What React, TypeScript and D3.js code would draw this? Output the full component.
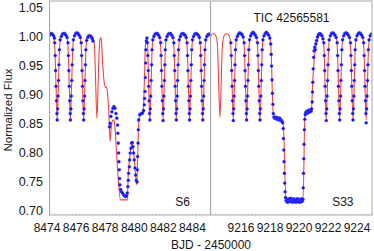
import * as d3 from 'd3';

// TIC 42565581 light curve, sectors S6 and S33 (broken time axis)

type Pt = [number, number];

const fluxTicks = [0.7, 0.75, 0.8, 0.85, 0.9, 0.95, 1.0, 1.05];
const s6Ticks = [8474, 8476, 8478, 8480, 8482, 8484];
const s33Ticks = [9216, 9218, 9220, 9222, 9224];
const s6Range: Pt = [8474.17, 8485.24];
const s33Range: Pt = [9213.9, 9225.03];
const fluxRange: Pt = [0.693, 1.062];

// model curve (red)
const s6Model: Pt[] = [
  [8474.14, 1.004], [8474.245, 1.006], [8474.4, 1.003], [8474.5, 0.993], [8474.55, 0.975], [8474.62, 0.915], [8474.7, 0.857],
  [8474.78, 0.915], [8474.85, 0.975], [8474.9, 0.993], [8475.0, 1.003], [8475.155, 1.006],
  [8475.31, 1.003], [8475.41, 0.993], [8475.46, 0.975], [8475.53, 0.915], [8475.61, 0.857],
  [8475.69, 0.915], [8475.76, 0.975], [8475.81, 0.993], [8475.91, 1.003], [8476.065, 1.006],
  [8476.22, 1.003], [8476.32, 0.993], [8476.37, 0.975], [8476.44, 0.915], [8476.52, 0.857],
  [8476.6, 0.915], [8476.67, 0.975], [8476.72, 0.993], [8476.82, 1.002], [8476.975, 1.003],
  [8477.13, 1.0], [8477.23, 0.992], [8477.28, 0.975], [8477.35, 0.915], [8477.43, 0.86],
  [8477.51, 0.915], [8477.58, 0.975], [8477.63, 0.995], [8477.68, 0.999],
  [8477.74, 0.994], [8477.8, 0.965], [8477.88, 0.935], [8477.95, 0.918], [8478.03, 0.913], [8478.1, 0.914],
  [8478.17, 0.9], [8478.24, 0.875], [8478.34, 0.82], [8478.42, 0.845], [8478.52, 0.856], [8478.6, 0.857],
  [8478.68, 0.842], [8478.78, 0.8], [8478.9, 0.755], [8479.05, 0.719], [8479.52, 0.719], [8479.58, 0.76],
  [8479.68, 0.79], [8479.8, 0.813], [8479.88, 0.815], [8479.98, 0.795], [8480.08, 0.765], [8480.17, 0.745],
  [8480.24, 0.8], [8480.31, 0.855], [8480.4, 0.864], [8480.55, 0.868], [8480.63, 0.88], [8480.7, 0.93],
  [8480.76, 0.985], [8480.82, 0.996], [8480.87, 0.995], [8480.92, 0.983],
  [8480.99, 0.915], [8481.07, 0.857], [8481.15, 0.915], [8481.22, 0.975], [8481.27, 0.993], [8481.37, 1.003], [8481.525, 1.006],
  [8481.68, 1.003], [8481.78, 0.993], [8481.83, 0.975], [8481.9, 0.915], [8481.98, 0.857],
  [8482.06, 0.915], [8482.13, 0.975], [8482.18, 0.993], [8482.28, 1.003], [8482.435, 1.006],
  [8482.59, 1.003], [8482.69, 0.993], [8482.74, 0.975], [8482.81, 0.915], [8482.89, 0.857],
  [8482.97, 0.915], [8483.04, 0.975], [8483.09, 0.993], [8483.19, 1.003], [8483.345, 1.006],
  [8483.5, 1.003], [8483.6, 0.993], [8483.65, 0.975], [8483.72, 0.915], [8483.8, 0.857],
  [8483.88, 0.915], [8483.95, 0.975], [8484.0, 0.993], [8484.1, 1.003], [8484.255, 1.006],
  [8484.41, 1.003], [8484.51, 0.993], [8484.56, 0.975], [8484.63, 0.915], [8484.71, 0.857],
  [8484.79, 0.915], [8484.86, 0.975], [8484.91, 0.993], [8485.01, 1.003], [8485.165, 1.006], [8485.26, 1.005],
];

const s33Model: Pt[] = [
  [9213.86, 0.997], [9213.94, 1.002], [9214.095, 1.006], [9214.25, 1.003], [9214.35, 0.993], [9214.4, 0.975],
  [9214.47, 0.915], [9214.55, 0.861], [9214.63, 0.915], [9214.7, 0.975], [9214.75, 0.993], [9214.85, 1.003], [9215.01, 1.006],
  [9215.17, 1.003], [9215.27, 0.993], [9215.32, 0.975], [9215.39, 0.915], [9215.47, 0.857],
  [9215.55, 0.915], [9215.62, 0.975], [9215.67, 0.993], [9215.77, 1.003], [9215.93, 1.006],
  [9216.09, 1.003], [9216.19, 0.993], [9216.24, 0.975], [9216.31, 0.915], [9216.39, 0.857],
  [9216.47, 0.915], [9216.54, 0.975], [9216.59, 0.993], [9216.69, 1.003], [9216.85, 1.006],
  [9217.01, 1.003], [9217.11, 0.993], [9217.16, 0.975], [9217.23, 0.915], [9217.31, 0.857],
  [9217.39, 0.915], [9217.46, 0.975], [9217.51, 0.993], [9217.61, 1.003], [9217.77, 1.006],
  [9217.93, 1.003], [9218.03, 0.993], [9218.08, 0.975], [9218.15, 0.915], [9218.23, 0.862], [9218.35, 0.862],
  [9218.55, 0.86], [9218.8, 0.856], [9218.92, 0.848], [9219.1, 0.72], [9220.28, 0.72], [9220.41, 0.866],
  [9220.6, 0.87], [9220.85, 0.873], [9220.95, 0.925], [9221.1, 0.975], [9221.25, 0.992], [9221.42, 1.004],
  [9221.58, 1.003], [9221.68, 0.993], [9221.73, 0.975], [9221.8, 0.915], [9221.88, 0.857],
  [9221.96, 0.915], [9222.03, 0.975], [9222.08, 0.993], [9222.18, 1.003], [9222.34, 1.006],
  [9222.5, 1.003], [9222.6, 0.993], [9222.65, 0.975], [9222.72, 0.915], [9222.8, 0.857],
  [9222.88, 0.915], [9222.95, 0.975], [9223.0, 0.993], [9223.1, 1.003], [9223.26, 1.006],
  [9223.42, 1.003], [9223.52, 0.993], [9223.57, 0.975], [9223.64, 0.915], [9223.72, 0.857],
  [9223.8, 0.915], [9223.87, 0.975], [9223.92, 0.993], [9224.02, 1.003], [9224.18, 1.006],
  [9224.33, 1.003], [9224.43, 0.993], [9224.48, 0.975], [9224.55, 0.915], [9224.63, 0.857],
  [9224.71, 0.915], [9224.78, 0.975], [9224.83, 0.993], [9224.93, 1.003], [9225.05, 1.005],
];

// observed fluxes (blue)
const s6Data: Pt[] = [
  [8474.21, 1.004], [8474.29, 1.006], [8474.37, 1.005], [8474.45, 1.002], [8474.51, 0.998],
  [8474.53, 0.99], [8474.56, 0.968], [8474.59, 0.942], [8474.62, 0.915], [8474.65, 0.89], [8474.68, 0.868], [8474.7, 0.857],
  [8474.73, 0.876], [8474.76, 0.898], [8474.79, 0.925], [8474.82, 0.952], [8474.85, 0.978], [8474.9, 0.995],
  [8474.98, 1.001], [8475.06, 1.005], [8475.14, 1.006], [8475.22, 1.006], [8475.3, 1.003], [8475.38, 0.999],
  [8475.44, 0.99], [8475.47, 0.968], [8475.5, 0.942], [8475.53, 0.915], [8475.56, 0.89], [8475.59, 0.868], [8475.61, 0.857],
  [8475.64, 0.876], [8475.67, 0.898], [8475.7, 0.925], [8475.73, 0.952], [8475.76, 0.978], [8475.81, 0.995],
  [8475.89, 1.002], [8475.97, 1.006], [8476.05, 1.007], [8476.13, 1.006], [8476.21, 1.003], [8476.29, 0.999],
  [8476.35, 0.99], [8476.38, 0.968], [8476.41, 0.942], [8476.44, 0.915], [8476.47, 0.89], [8476.5, 0.868], [8476.52, 0.857],
  [8476.55, 0.876], [8476.58, 0.898], [8476.61, 0.925], [8476.64, 0.952], [8476.67, 0.978], [8476.72, 0.994],
  [8476.8, 0.999], [8476.88, 1.002], [8476.96, 1.002], [8477.04, 1.0], [8477.11, 0.997], [8477.16, 0.993],
  [8478.3, 0.845], [8478.34, 0.851], [8478.39, 0.863], [8478.46, 0.871], [8478.53, 0.877], [8478.6, 0.88],
  [8478.67, 0.877], [8478.74, 0.868], [8478.8, 0.86], [8478.85, 0.848], [8478.87, 0.834], [8478.9, 0.817],
  [8478.92, 0.8], [8478.94, 0.785], [8478.97, 0.771], [8478.99, 0.756], [8479.01, 0.745], [8479.06, 0.737],
  [8479.12, 0.733], [8479.19, 0.731], [8479.26, 0.728], [8479.33, 0.726], [8479.4, 0.725], [8479.47, 0.726],
  [8479.52, 0.731], [8479.56, 0.742], [8479.59, 0.753], [8479.61, 0.765], [8479.66, 0.776], [8479.68, 0.788],
  [8479.72, 0.8], [8479.77, 0.808], [8479.81, 0.817], [8479.86, 0.818], [8479.91, 0.811], [8479.95, 0.8],
  [8480.0, 0.788], [8480.05, 0.774], [8480.09, 0.762], [8480.14, 0.753], [8480.19, 0.75], [8480.21, 0.771],
  [8480.23, 0.794], [8480.26, 0.817], [8480.28, 0.84], [8480.3, 0.857], [8480.37, 0.866], [8480.43, 0.867],
  [8480.5, 0.868], [8480.57, 0.869], [8480.64, 0.873], [8480.69, 0.883], [8480.71, 0.894], [8480.74, 0.906],
  [8480.76, 0.93], [8480.78, 0.955], [8480.8, 0.978], [8480.83, 0.993], [8480.87, 0.998],
  [8480.9, 0.99], [8480.93, 0.968], [8480.96, 0.942], [8480.99, 0.915], [8481.02, 0.89], [8481.05, 0.868], [8481.07, 0.857],
  [8481.1, 0.876], [8481.13, 0.898], [8481.16, 0.925], [8481.19, 0.952], [8481.22, 0.978], [8481.27, 0.995],
  [8481.35, 1.001], [8481.43, 1.005], [8481.51, 1.006], [8481.59, 1.006], [8481.67, 1.003], [8481.75, 0.999],
  [8481.81, 0.99], [8481.84, 0.968], [8481.87, 0.942], [8481.9, 0.915], [8481.93, 0.89], [8481.96, 0.868], [8481.98, 0.856],
  [8482.01, 0.876], [8482.04, 0.898], [8482.07, 0.925], [8482.1, 0.952], [8482.13, 0.978], [8482.18, 0.995],
  [8482.26, 1.001], [8482.34, 1.005], [8482.42, 1.006], [8482.5, 1.006], [8482.58, 1.003], [8482.66, 0.999],
  [8482.72, 0.99], [8482.75, 0.968], [8482.78, 0.942], [8482.81, 0.915], [8482.84, 0.89], [8482.87, 0.868], [8482.89, 0.857],
  [8482.92, 0.876], [8482.95, 0.898], [8482.98, 0.925], [8483.01, 0.952], [8483.04, 0.978], [8483.09, 0.995],
  [8483.17, 1.001], [8483.25, 1.005], [8483.33, 1.006], [8483.41, 1.005], [8483.49, 1.003], [8483.57, 0.999],
  [8483.63, 0.99], [8483.66, 0.968], [8483.69, 0.942], [8483.72, 0.915], [8483.75, 0.89], [8483.78, 0.868], [8483.8, 0.857],
  [8483.83, 0.876], [8483.86, 0.898], [8483.89, 0.925], [8483.92, 0.952], [8483.95, 0.978], [8484.0, 0.995],
  [8484.08, 1.001], [8484.16, 1.005], [8484.24, 1.006], [8484.32, 1.005], [8484.4, 1.003], [8484.48, 0.999],
  [8484.54, 0.99], [8484.57, 0.968], [8484.6, 0.942], [8484.63, 0.915], [8484.66, 0.89], [8484.69, 0.868], [8484.71, 0.857],
  [8484.74, 0.876], [8484.77, 0.898], [8484.8, 0.925], [8484.83, 0.952], [8484.86, 0.978], [8484.91, 0.995],
  [8484.99, 1.001], [8485.07, 1.004], [8485.15, 1.005], [8485.22, 1.004],
];

const s33Data: Pt[] = [
  [9215.3, 0.99], [9215.33, 0.968], [9215.36, 0.942], [9215.39, 0.915], [9215.42, 0.89], [9215.45, 0.868], [9215.47, 0.856],
  [9215.5, 0.876], [9215.53, 0.898], [9215.56, 0.925], [9215.59, 0.952], [9215.62, 0.978], [9215.67, 0.995],
  [9215.75, 1.001], [9215.83, 1.005], [9215.91, 1.007], [9215.99, 1.006], [9216.07, 1.004], [9216.15, 1.0],
  [9216.22, 0.99], [9216.25, 0.968], [9216.28, 0.942], [9216.31, 0.915], [9216.34, 0.89], [9216.37, 0.868], [9216.39, 0.857],
  [9216.42, 0.876], [9216.45, 0.898], [9216.48, 0.925], [9216.51, 0.952], [9216.54, 0.978], [9216.59, 0.995],
  [9216.67, 1.002], [9216.75, 1.006], [9216.83, 1.008], [9216.91, 1.006], [9216.99, 1.003], [9217.07, 0.999],
  [9217.14, 0.99], [9217.17, 0.968], [9217.2, 0.942], [9217.23, 0.915], [9217.26, 0.89], [9217.29, 0.868], [9217.31, 0.857],
  [9217.34, 0.876], [9217.37, 0.898], [9217.4, 0.925], [9217.43, 0.952], [9217.46, 0.978], [9217.51, 0.995],
  [9217.59, 1.002], [9217.67, 1.006], [9217.75, 1.008], [9217.83, 1.006], [9217.91, 1.003], [9217.99, 0.998],
  [9218.05, 0.988], [9218.08, 0.97], [9218.11, 0.95], [9218.14, 0.926], [9218.17, 0.903], [9218.2, 0.884], [9218.23, 0.868],
  [9218.27, 0.862], [9218.32, 0.86], [9218.37, 0.862], [9218.42, 0.86], [9218.47, 0.858], [9218.52, 0.861],
  [9218.57, 0.858], [9218.62, 0.857], [9218.67, 0.86], [9218.72, 0.857], [9218.77, 0.856], [9218.82, 0.855],
  [9218.87, 0.852], [9218.91, 0.842], [9218.93, 0.825], [9218.95, 0.805], [9218.97, 0.785], [9218.99, 0.765],
  [9219.01, 0.748], [9219.04, 0.733], [9219.07, 0.723],
  [9219.11, 0.718], [9219.15, 0.716], [9219.19, 0.72], [9219.23, 0.715], [9219.27, 0.718], [9219.31, 0.721],
  [9219.35, 0.716], [9219.39, 0.719], [9219.43, 0.722], [9219.47, 0.717], [9219.51, 0.72], [9219.55, 0.715],
  [9219.59, 0.718], [9219.63, 0.721], [9219.67, 0.716], [9219.71, 0.72], [9219.75, 0.718], [9219.79, 0.715],
  [9219.83, 0.719], [9219.87, 0.721], [9219.91, 0.716], [9219.95, 0.72], [9219.99, 0.717], [9220.03, 0.715],
  [9220.07, 0.72], [9220.11, 0.718], [9220.15, 0.716], [9220.19, 0.721], [9220.23, 0.717], [9220.27, 0.72],
  [9220.29, 0.74], [9220.31, 0.765], [9220.33, 0.79], [9220.35, 0.815], [9220.37, 0.84], [9220.4, 0.858],
  [9220.43, 0.866], [9220.47, 0.87], [9220.51, 0.868], [9220.55, 0.872], [9220.59, 0.869], [9220.63, 0.873],
  [9220.67, 0.87], [9220.71, 0.874], [9220.75, 0.871], [9220.79, 0.874], [9220.83, 0.872], [9220.87, 0.876],
  [9220.91, 0.888], [9220.93, 0.905], [9220.95, 0.922], [9220.98, 0.945], [9221.01, 0.965], [9221.04, 0.976],
  [9221.08, 0.982], [9221.12, 0.978], [9221.16, 0.988], [9221.21, 0.994], [9221.27, 1.0], [9221.34, 1.004],
  [9221.42, 1.006], [9221.5, 1.005], [9221.58, 1.002], [9221.65, 0.997],
  [9221.71, 0.99], [9221.74, 0.968], [9221.77, 0.942], [9221.8, 0.915], [9221.83, 0.89], [9221.86, 0.868], [9221.88, 0.856],
  [9221.91, 0.876], [9221.94, 0.898], [9221.97, 0.925], [9222.0, 0.952], [9222.03, 0.978], [9222.08, 0.995],
  [9222.16, 1.002], [9222.24, 1.006], [9222.32, 1.007], [9222.4, 1.006], [9222.48, 1.003], [9222.56, 0.999],
  [9222.63, 0.99], [9222.66, 0.968], [9222.69, 0.942], [9222.72, 0.915], [9222.75, 0.89], [9222.78, 0.868], [9222.8, 0.857],
  [9222.83, 0.876], [9222.86, 0.898], [9222.89, 0.925], [9222.92, 0.952], [9222.95, 0.978], [9223.0, 0.995],
  [9223.08, 1.002], [9223.16, 1.006], [9223.24, 1.007], [9223.32, 1.006], [9223.4, 1.003], [9223.48, 0.999],
  [9223.55, 0.99], [9223.58, 0.968], [9223.61, 0.942], [9223.64, 0.915], [9223.67, 0.89], [9223.7, 0.868], [9223.72, 0.857],
  [9223.75, 0.876], [9223.78, 0.898], [9223.81, 0.925], [9223.84, 0.952], [9223.87, 0.978], [9223.92, 0.995],
  [9224.0, 1.002], [9224.08, 1.006], [9224.16, 1.007], [9224.24, 1.006], [9224.32, 1.003], [9224.4, 0.999],
  [9224.46, 0.99], [9224.49, 0.968], [9224.52, 0.942], [9224.55, 0.915], [9224.58, 0.89], [9224.61, 0.868], [9224.63, 0.852],
  [9224.66, 0.876], [9224.69, 0.898], [9224.72, 0.925], [9224.75, 0.952], [9224.78, 0.978], [9224.83, 0.995],
  [9224.91, 1.002], [9224.99, 1.005],
];

const W = 374;
const H = 251;
const top = 1;
const bottom = 215;
const left = 49.5;
const split = 210.5;
const right = 372;
const font = '"Liberation Sans", Arial, Helvetica, sans-serif';
const ink = '#161616';

const y = d3.scaleLinear().domain(fluxRange).range([bottom, top]);
const x6 = d3.scaleLinear().domain(s6Range).range([left, split]);
const x33 = d3.scaleLinear().domain(s33Range).range([split, right]);

function Panel({ id, x, model, data }: { id: string; x: d3.ScaleLinear<number, number>; model: Pt[]; data: Pt[] }) {
  const [x0, x1] = x.range();
  const line = d3.line<Pt>()
    .x((d) => x(d[0]))
    .y((d) => y(d[1]))
    .curve(d3.curveMonotoneX);
  const minor = d3.range(Math.ceil(x.domain()[0] * 4) / 4, x.domain()[1], 0.25);
  return (
    <g>
      <defs>
        <clipPath id={id}>
          <rect x={x0} y={top} width={x1 - x0} height={bottom - top} />
        </clipPath>
      </defs>
      {minor.map((t) => (
        <line key={t} x1={x(t)} x2={x(t)} y1={bottom} y2={bottom - 1.5} stroke="#c4c4c4" strokeWidth={0.7} />
      ))}
      <g clipPath={`url(#${id})`}>
        <path d={line(model) ?? ''} fill="none" stroke="#ff2a2a" strokeWidth={1.1} strokeOpacity={0.9} />
        {data.map((d, i) => (
          <circle key={i} cx={x(d[0])} cy={y(d[1])} r={1.55} fill="#1212ee" stroke="#5050ff" strokeOpacity={0.5} strokeWidth={0.7} />
        ))}
      </g>
    </g>
  );
}

export default function App() {
  const yMinor = d3.range(0.7, 1.061, 0.01);
  return (
    <svg width={W} height={H} style={{ position: 'absolute', left: 0, top: 0, background: '#fff' }} fontFamily={font}>
      {yMinor.map((v) => (
        <line key={v} x1={left} x2={left + 1.5} y1={y(v)} y2={y(v)} stroke="#c4c4c4" strokeWidth={0.7} />
      ))}
      <Panel id="clip-s6" x={x6} model={s6Model} data={s6Data} />
      <Panel id="clip-s33" x={x33} model={s33Model} data={s33Data} />
      <rect x={left} y={top} width={right - left} height={bottom - top} fill="none" stroke="#a8a8a8" strokeWidth={1} />
      <line x1={split} x2={split} y1={top} y2={bottom} stroke="#a8a8a8" strokeWidth={1.2} />

      {fluxTicks.map((v) => (
        <text key={v} x={43} y={y(v)} dy="0.36em" textAnchor="end" fontSize={12.5} fill={ink}>
          {v.toFixed(2)}
        </text>
      ))}
      {s6Ticks.map((t) => (
        <text key={t} x={x6(t)} y={231.5} textAnchor="middle" fontSize={12} fill={ink}>{t}</text>
      ))}
      {s33Ticks.map((t) => (
        <text key={t} x={x33(t)} y={231.5} textAnchor="middle" fontSize={12} fill={ink}>{t}</text>
      ))}

      <text x={211} y={249} textAnchor="middle" fontSize={12} fill={ink}>BJD - 2450000</text>
      <text transform="translate(12,110) rotate(-90)" textAnchor="middle" fontSize={11.5} fill={ink}>Normalized Flux</text>
      <text x={291.5} y={21.5} textAnchor="middle" fontSize={12} fill={ink}>TIC 42565581</text>
      <text x={190} y={206} textAnchor="end" fontSize={12} fill={ink}>S6</text>
      <text x={353.5} y={206} textAnchor="end" fontSize={12} fill={ink}>S33</text>
    </svg>
  );
}
